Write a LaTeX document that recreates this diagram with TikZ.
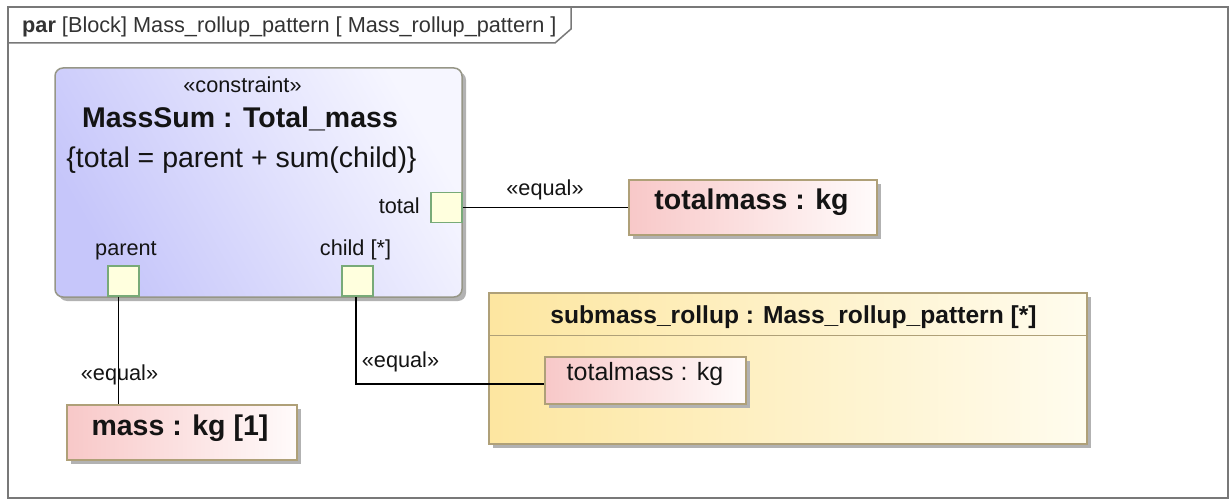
\documentclass[tikz,border=0pt]{standalone}
\usepackage{fontspec}
\setmainfont{Liberation Sans}
\usepackage{tikz}
\usetikzlibrary{shadows}
\usetikzlibrary{calc}
\usepackage{xcolor}

\definecolor{lavL}{RGB}{198,198,250}
\definecolor{lavR}{RGB}{246,246,255}
\definecolor{pinkL}{RGB}{248,200,200}
\definecolor{pinkR}{RGB}{255,251,251}
\definecolor{yelL}{RGB}{253,230,160}
\definecolor{yelR}{RGB}{255,252,238}
\definecolor{portfill}{RGB}{255,255,222}
\definecolor{portline}{RGB}{120,170,120}
\definecolor{blkline}{RGB}{150,150,135}
\definecolor{boxline}{RGB}{175,160,120}
\definecolor{shadowgray}{RGB}{178,178,178}
\definecolor{frameline}{RGB}{120,120,120}
\definecolor{ink}{RGB}{20,20,20}

\begin{document}
\begin{tikzpicture}[x=1pt,y=-1pt]
\tikzset{small/.style={font=\fontsize{21.7}{26}\selectfont, text=ink, inner sep=0pt, anchor=base}}
\tikzset{big/.style={font=\fontsize{28.5}{32}\selectfont\bfseries, text=ink, inner sep=0pt, anchor=base}}
\tikzset{shadowed/.style={drop shadow={shadow xshift=4pt, shadow yshift=-4pt, fill=shadowgray, opacity=1}}}
\tikzstyle{port} = [draw=portline, fill=portfill, line width=1.5pt, minimum width=31pt, minimum height=30pt, inner sep=0pt]
\tikzstyle{valbox} = [draw=boxline, line width=1.5pt, left color=pinkL, right color=pinkR, shadowed, inner sep=0pt]
\tikzstyle{wire} = [line width=1.5pt, black]

\useasboundingbox (0,0) rectangle (1231,500);

\draw [frameline, line width=1.5pt] (8,7) rectangle (1228,498);
\draw [frameline, line width=1.5pt] (8,43) -- (555,43) -- (571,29) -- (571,7);
\node [small, anchor=base west, text=black!80] (title) at (22,33) {\textbf{par} [Block] Mass\_rollup\_pattern [ Mass\_rollup\_pattern ]};

\node [draw=blkline, line width=1.5pt, rounded corners=8pt, left color=lavL, right color=lavR, shading angle=120, shadowed, minimum width=407pt, minimum height=229pt] (mssum) at (258.5,182.5) {};
\node [small] (stereo) at (242.5,93) {«constraint»};
\node [big] (msname) at (240,128) {MassSum : Total\_mass};
\node [font=\fontsize{28.5}{32}\selectfont, text=ink, inner sep=0pt, anchor=base] (expr) at (241.5,167) {\{total = parent + sum(child)\}};

\node [port] (ptotal) at (446.5,207.5) {};
\node [port] (pparent) at (123.5,281) {};
\node [port] (pchild) at (357.5,281) {};
\node [small, anchor=base east] (ltotal) at (420,213) {total};
\node [small] (lparent) at (126,255) {parent};
\node [small] (lchild) at (355.5,255) {child [*]};

\node [valbox, minimum width=248pt, minimum height=55pt] (tmass) at (753,207.5) {};
\node [big] (tmasstxt) at (751.5,209) {totalmass : kg};
\node [valbox, minimum width=230pt, minimum height=55pt] (mass) at (182,432.5) {};
\node [big] (masstxt) at (180,435) {mass : kg [1]};

\node [draw=boxline, line width=1.5pt, left color=yelL, right color=yelR, shadowed, minimum width=598pt, minimum height=151pt] (subroll) at (788,368.5) {};
\draw [boxline, line width=1.5pt] ([yshift=-43pt]subroll.north west) -- ([yshift=-43pt]subroll.north east);
\node [big, font=\fontsize{24.6}{28}\selectfont\bfseries] (subrolltxt) at (793.5,323) {submass\_rollup : Mass\_rollup\_pattern [*]};
\node [valbox, minimum width=201pt, minimum height=47pt] (subtmass) at (645.5,380.5) {};
\node [small, font=\fontsize{25}{28}\selectfont] (subtmasstxt) at (645,380) {totalmass : kg};

\draw [wire] (ptotal.east) -- (tmass.west);
\draw [wire] ([xshift=-5pt]pparent.south) -- ([xshift=-5pt]pparent.south |- mass.north);
\draw [wire] ([xshift=-1.5pt]pchild.south) |- ([yshift=-3.5pt]subtmass.west);
\node [small] (eqtotal) at (545,195) {«equal»};
\node [small] (eqparent) at (119.5,380) {«equal»};
\node [small] (eqchild) at (400.5,367) {«equal»};
\end{tikzpicture}
\end{document}
